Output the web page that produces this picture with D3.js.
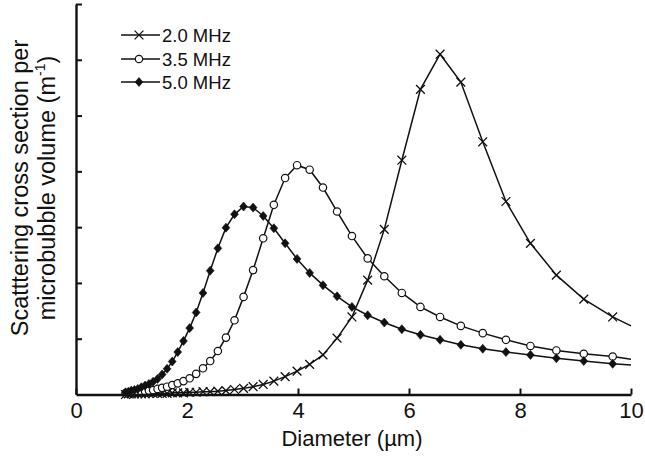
<!DOCTYPE html>
<html><head><meta charset="utf-8">
<script src="https://cdn.jsdelivr.net/npm/d3@7"></script>
<style>html,body{margin:0;padding:0;background:#fff;} svg{display:block;}</style>
</head><body>
<svg id="chart" width="645" height="460"></svg>
<script>
// Shared diameter grid (µm); the final 10 is the end of the line (no marker)
const diameters = [0.892,0.943,0.996,1.053,1.113,1.177,1.244,1.314,1.389,1.469,1.552,1.641,1.734,1.833,1.937,2.048,2.165,2.288,2.418,2.556,2.702,2.856,3.019,3.191,3.373,3.565,3.768,3.983,4.210,4.450,4.704,4.972,5.255,5.555,5.871,6.206,6.560,6.934,7.329,7.747,8.188,8.655,9.149,9.670,10];
const mhz20 = [0.00,0.01,0.01,0.01,0.01,0.01,0.01,0.02,0.02,0.02,0.02,0.02,0.03,0.03,0.03,0.04,0.04,0.05,0.05,0.06,0.07,0.09,0.11,0.14,0.18,0.24,0.32,0.42,0.54,0.71,1.01,1.39,2.05,2.96,4.20,5.47,6.10,5.60,4.53,3.46,2.71,2.14,1.71,1.39,1.23];
const mhz35 = [0.02,0.03,0.03,0.04,0.04,0.05,0.06,0.07,0.08,0.10,0.12,0.14,0.17,0.20,0.24,0.29,0.37,0.47,0.60,0.78,1.02,1.33,1.75,2.23,2.80,3.40,3.88,4.11,4.03,3.71,3.28,2.84,2.44,2.12,1.82,1.57,1.39,1.23,1.10,0.98,0.87,0.79,0.73,0.68,0.63];
const mhz50 = [0.04,0.05,0.07,0.08,0.10,0.13,0.16,0.19,0.23,0.28,0.36,0.46,0.59,0.76,0.96,1.19,1.47,1.82,2.22,2.62,2.99,3.23,3.37,3.35,3.20,2.98,2.71,2.43,2.18,1.96,1.76,1.57,1.42,1.29,1.17,1.07,0.98,0.89,0.82,0.76,0.71,0.65,0.60,0.55,0.53];
const seriesNames = ["2.0 MHz","3.5 MHz","5.0 MHz"];
const xTicks = [0,2,4,6,8,10];
const yTicks = [1,2,3,4,5,6,7];
const xTitle = "Diameter (µm)";
const yTitleLine1 = "Scatttering cross section per";

const svg = d3.select("#chart");
svg.append("rect").attr("width",645).attr("height",460).attr("fill","#fff");
const font = "'Liberation Sans', Arial, Helvetica, sans-serif";
const ink = "#111";

const x = d3.scaleLinear().domain([0,10]).range([76,631]);
const y = d3.scaleLinear().domain([0,7]).range([394.5,4]);

const series = [
  {name: seriesNames[0], values: mhz20, type: "x"},
  {name: seriesNames[1], values: mhz35, type: "circle"},
  {name: seriesNames[2], values: mhz50, type: "diamond"}
];

const line = d3.line().x(d => x(d[0])).y(d => y(d[1])).curve(d3.curveLinear);

function drawMarker(g, type, cx, cy) {
  if (type === "x") {
    g.append("path").attr("d", d3.symbol(d3.symbolX, 52)())
      .attr("transform", `translate(${cx},${cy})`)
      .attr("fill","none").attr("stroke",ink).attr("stroke-width",1.3);
  } else if (type === "circle") {
    g.append("circle").attr("cx",cx).attr("cy",cy).attr("r",3.7)
      .attr("fill","#fff").attr("stroke",ink).attr("stroke-width",1.2);
  } else {
    const w = 3.9, h = 4.5;
    g.append("path").attr("d",`M${cx},${cy-h}L${cx+w},${cy}L${cx},${cy+h}L${cx-w},${cy}Z`)
      .attr("fill",ink).attr("stroke",ink).attr("stroke-width",0.6);
  }
}

const plot = svg.append("g");
series.forEach(s => {
  const pts = diameters.map((d,i) => [d, s.values[i]]);
  plot.append("path").attr("d", line(pts)).attr("fill","none")
    .attr("stroke",ink).attr("stroke-width",1.5);
});
series.forEach(s => {
  const g = plot.append("g");
  diameters.forEach((d,i) => { if (d < 9.9) drawMarker(g, s.type, x(d), y(s.values[i])); });
});

// Axes
const xAxis = svg.append("g").attr("transform",`translate(0,${y(0)})`)
  .call(d3.axisBottom(x).tickValues(xTicks).tickSizeInner(-6).tickSizeOuter(0).tickPadding(8).tickFormat(d3.format("d")));
xAxis.select(".domain").attr("stroke",ink).attr("stroke-width",2.4);
xAxis.selectAll(".tick line").attr("stroke",ink).attr("stroke-width",2);
xAxis.selectAll(".tick text").attr("font-family",font).attr("font-size",22).attr("fill",ink);

const yAxis = svg.append("g").attr("transform",`translate(${x(0)},0)`)
  .call(d3.axisLeft(y).tickValues(yTicks).tickSizeInner(-6).tickSizeOuter(0).tickFormat(""));
yAxis.select(".domain").attr("stroke",ink).attr("stroke-width",2.4);
yAxis.selectAll(".tick line").attr("stroke",ink).attr("stroke-width",2);

// Axis titles
svg.append("text").attr("x",352).attr("y",446).attr("text-anchor","middle")
  .attr("font-family",font).attr("font-size",22).attr("fill",ink).text(xTitle);

const yt = svg.append("g").attr("transform","translate(0,188) rotate(-90)");
yt.append("text").attr("x",0).attr("y",28).attr("text-anchor","middle")
  .attr("font-family",font).attr("font-size",23.5).attr("fill",ink).text(yTitleLine1);
const t2 = yt.append("text").attr("x",0).attr("y",55).attr("text-anchor","middle")
  .attr("font-family",font).attr("font-size",23.5).attr("fill",ink);
t2.append("tspan").text("microbubble volume (m");
t2.append("tspan").attr("font-size",14).attr("dy",-10).text("-1");
t2.append("tspan").attr("dy",10).text(")");

// Legend
const legY = [35, 59, 82];
series.forEach((s,i) => {
  const g = svg.append("g");
  g.append("line").attr("x1",121).attr("x2",160).attr("y1",legY[i]).attr("y2",legY[i])
    .attr("stroke",ink).attr("stroke-width",1.5);
  drawMarker(g, s.type, 139, legY[i]);
  g.append("text").attr("x",162).attr("y",legY[i]).attr("dy","0.36em")
    .attr("font-family",font).attr("font-size",18.5).attr("fill",ink).text(s.name);
});
</script>
</body></html>
